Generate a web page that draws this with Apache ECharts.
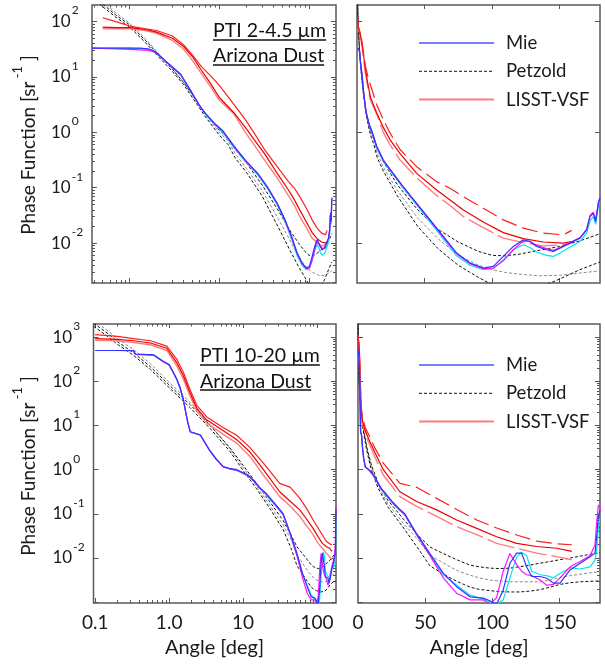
<!DOCTYPE html>
<html><head><meta charset="utf-8">
<script src="https://cdn.jsdelivr.net/npm/echarts@6/dist/echarts.min.js"></script>
<style>html,body{margin:0;padding:0;background:#fff}#c{width:605px;height:665px}</style>
</head><body><div id="c"></div>
<script>
// ===== DATA: angle [deg] and log10(phase function [sr^-1]) =====
// --- PTI 2-4.5 um (top row) ---
const mieTopAngle = [0.38, 0.6, 1.0, 1.3, 1.6, 1.8, 2.0, 2.5, 3.0, 3.7, 4.8, 6.2, 7.1, 9.0, 10.9, 14.6, 19.5, 26.9, 34.3, 44.2, 54.1, 64.0, 73.8, 83.7, 93.5, 101, 108.4, 115.8, 123.2, 128.1, 133, 140.5, 145.4, 150.4, 157.8, 165.2, 170.1, 172.6, 175, 176.8, 178.8, 180];
const mieTopBlue = [1.52, 1.52, 1.52, 1.52, 1.51, 1.48, 1.44, 1.29, 1.18, 1.05, 0.75, 0.45, 0.33, 0.15, 0.03, -0.25, -0.50, -0.745, -0.985, -1.28, -1.58, -1.88, -2.18, -2.36, -2.45, -2.42, -2.24, -2.06, -1.94, -1.97, -2.06, -2.12, -2.15, -2.09, -2.00, -1.91, -1.76, -1.52, -1.46, -1.61, -1.28, -1.19];
const mieTopCyan = [1.52, 1.52, 1.52, 1.51, 1.50, 1.47, 1.43, 1.28, 1.17, 1.04, 0.74, 0.44, 0.31, 0.13, 0.00, -0.28, -0.53, -0.77, -1.01, -1.31, -1.62, -1.93, -2.23, -2.40, -2.48, -2.46, -2.30, -2.12, -2.03, -2.08, -2.16, -2.22, -2.24, -2.18, -2.07, -1.97, -1.82, -1.60, -1.52, -1.66, -1.33, -1.22];
const mieTopMagenta = [1.52, 1.51, 1.50, 1.49, 1.48, 1.46, 1.43, 1.29, 1.17, 1.05, 0.75, 0.45, 0.33, 0.14, 0.02, -0.26, -0.51, -0.75, -0.99, -1.29, -1.59, -1.90, -2.19, -2.37, -2.46, -2.45, -2.32, -2.12, -1.96, -1.97, -2.04, -2.10, -2.13, -2.08, -1.99, -1.90, -1.75, -1.50, -1.44, -1.58, -1.26, -1.17];
const petTopAngle = [0.38, 0.5, 0.7, 1, 1.5, 2, 3, 4, 5, 7, 10, 12.5, 15, 20, 30, 45, 60, 75, 90, 100, 110, 120, 135, 150, 165, 180];
const petTop1 = [2.50, 2.32, 2.12, 1.94, 1.66, 1.44, 1.14, 0.90, 0.68, 0.34, 0.04, -0.10, -0.30, -0.55, -0.95, -1.40, -1.75, -1.98, -2.15, -2.22, -2.23, -2.20, -2.13, -2.06, -1.96, -1.83];
const petTop2 = [2.55, 2.36, 2.16, 1.97, 1.69, 1.46, 1.15, 0.90, 0.67, 0.32, 0.00, -0.15, -0.38, -0.65, -1.05, -1.55, -1.92, -2.22, -2.40, -2.48, -2.53, -2.56, -2.59, -2.58, -2.54, -2.50];
const petTop3 = [2.45, 2.27, 2.08, 1.90, 1.62, 1.40, 1.10, 0.86, 0.63, 0.28, -0.05, -0.22, -0.46, -0.72, -1.15, -1.70, -2.10, -2.40, -2.62, -2.75, -2.82, -2.84, -2.80, -2.65, -2.48, -2.34];
const lisstTopAngle = [0.5, 0.7, 1.0, 1.5, 2, 3, 4, 5, 6.2, 8, 10, 14.6, 19.5, 24.4, 31.9, 44.2, 59, 68.9, 78.8, 93.5, 108.4, 123.2, 138, 152.8, 159];
const lisstTop1 = [2.07, 2.00, 1.92, 1.87, 1.84, 1.74, 1.58, 1.40, 1.20, 1.02, 0.85, 0.50, 0.23, -0.01, -0.31, -0.62, -0.89, -1.01, -1.16, -1.37, -1.58, -1.73, -1.82, -1.85, -1.77];
const lisstTop2 = [1.90, 1.89, 1.89, 1.86, 1.81, 1.70, 1.55, 1.37, 1.14, 0.88, 0.63, 0.35, 0.09, -0.13, -0.385, -0.74, -1.04, -1.22, -1.40, -1.62, -1.81, -1.92, -1.98, -2.00, -1.97];
const lisstTop3 = [1.87, 1.87, 1.87, 1.84, 1.79, 1.66, 1.50, 1.30, 1.08, 0.82, 0.58, 0.33, 0.00, -0.22, -0.50, -0.82, -1.14, -1.32, -1.52, -1.72, -1.91, -1.99, -2.05, -2.03, -2.00];

// --- PTI 10-20 um (bottom row) ---
const mieBotAngle = [0.1, 0.2, 0.33, 0.35, 0.62, 0.84, 1.0, 1.14, 1.27, 1.41, 1.56, 1.65, 1.8, 1.93, 2.3, 2.64, 3.5, 4.3, 5.4, 6.5, 8.2, 11.6, 14, 17.1, 20, 25.3, 31.2, 34.6, 43.6, 53.5, 63.5, 73.4, 83.3, 93.2, 98, 103.1, 108, 113, 118, 121.7, 125.4, 129.2, 135.4, 140.4, 145.3, 150.3, 157.7, 165.2, 172.6, 176.3, 177.5, 178.8, 180];
const mieBotBlue = [2.70, 2.70, 2.70, 2.62, 2.60, 2.45, 2.38, 2.20, 2.05, 1.85, 1.58, 1.36, 1.05, 0.86, 0.82, 0.79, 0.45, 0.25, 0.07, 0.03, 0.00, -0.12, -0.25, -0.42, -0.52, -0.72, -0.90, -0.99, -1.45, -1.90, -2.35, -2.65, -2.88, -2.91, -2.97, -3.05, -2.73, -2.12, -1.89, -1.89, -2.20, -2.42, -2.42, -2.46, -2.57, -2.57, -2.27, -2.12, -1.97, -1.89, -1.52, -1.06, -0.91];
const mieBotCyan = [2.70, 2.70, 2.70, 2.62, 2.60, 2.45, 2.37, 2.19, 2.04, 1.84, 1.57, 1.35, 1.04, 0.85, 0.81, 0.78, 0.44, 0.24, 0.06, 0.02, -0.02, -0.14, -0.27, -0.44, -0.55, -0.75, -0.93, -1.02, -1.48, -1.93, -2.38, -2.62, -2.84, -2.93, -3.00, -3.05, -2.95, -2.45, -1.98, -1.87, -1.95, -2.30, -2.38, -2.40, -2.45, -2.35, -2.22, -2.25, -2.20, -2.05, -1.80, -1.30, -1.10];
const mieBotMagenta = [2.70, 2.70, 2.69, 2.61, 2.59, 2.44, 2.37, 2.20, 2.05, 1.85, 1.58, 1.36, 1.05, 0.86, 0.82, 0.78, 0.44, 0.24, 0.06, 0.02, -0.01, -0.13, -0.26, -0.43, -0.53, -0.73, -0.92, -1.01, -1.47, -1.95, -2.45, -2.80, -2.95, -2.95, -3.05, -2.90, -2.30, -1.90, -2.15, -2.30, -2.38, -2.40, -2.50, -2.62, -2.60, -2.45, -2.20, -2.08, -1.95, -1.70, -1.20, -0.80, -0.85];
const petBotAngle = [0.095, 0.15, 0.2, 0.33, 0.56, 1.0, 1.41, 1.93, 3.5, 6.6, 10, 15, 22.4, 34.6, 45, 53.5, 60, 68.4, 75, 83.3, 90, 98, 105, 113, 120, 128, 135, 143, 150, 158, 165, 172, 180];
const petBot1 = [3.32, 3.08, 2.90, 2.65, 2.33, 1.92, 1.68, 1.47, 1.02, 0.50, 0.10, -0.30, -0.70, -1.15, -1.50, -1.75, -1.85, -1.97, -2.06, -2.16, -2.20, -2.23, -2.24, -2.23, -2.20, -2.16, -2.12, -2.08, -2.04, -2.00, -1.96, -1.92, -1.88];
const petBot2 = [3.38, 3.14, 2.97, 2.72, 2.40, 1.98, 1.74, 1.52, 1.04, 0.48, 0.05, -0.36, -0.78, -1.25, -1.60, -1.95, -2.05, -2.20, -2.30, -2.39, -2.45, -2.50, -2.52, -2.54, -2.54, -2.54, -2.54, -2.50, -2.44, -2.40, -2.37, -2.34, -2.31];
const petBot3 = [3.25, 3.01, 2.84, 2.59, 2.27, 1.86, 1.62, 1.40, 0.95, 0.42, -0.02, -0.42, -0.85, -1.35, -1.80, -2.18, -2.30, -2.45, -2.55, -2.66, -2.71, -2.74, -2.76, -2.77, -2.77, -2.75, -2.72, -2.66, -2.60, -2.56, -2.54, -2.53, -2.52];
const lisstBotAngle = [0.1, 0.2, 0.33, 0.56, 0.93, 1.27, 1.56, 1.93, 2.38, 3.2, 5.4, 8.2, 12.4, 18.8, 31.2, 43.6, 58.5, 73.4, 88.3, 103.1, 118, 132.9, 147.8, 159];
const lisstBot1 = [3.06, 3.02, 2.97, 2.92, 2.80, 2.50, 2.20, 1.80, 1.45, 1.20, 0.95, 0.78, 0.50, 0.15, -0.31, -0.40, -0.65, -0.90, -1.14, -1.32, -1.48, -1.62, -1.68, -1.70];
const lisstBot2 = [2.97, 2.95, 2.92, 2.87, 2.75, 2.42, 2.12, 1.73, 1.38, 1.13, 0.88, 0.68, 0.40, 0.00, -0.50, -0.72, -0.91, -1.14, -1.33, -1.52, -1.67, -1.74, -1.78, -1.85];
const lisstBot3 = [2.93, 2.92, 2.88, 2.83, 2.70, 2.35, 2.05, 1.66, 1.32, 1.06, 0.80, 0.60, 0.30, -0.12, -0.61, -0.83, -1.06, -1.29, -1.47, -1.67, -1.78, -1.89, -1.97, -2.04];

// --- axes ---
const xRangeTopLog = [0.38, 200];
const xRangeBotLog = [0.095, 180];
const xRangeLin = [0, 180];
const yExpTop = [-2.72, 2.3];
const yExpBot = [-3.02, 3.3];
const yLabelExpTop = [-2, -1, 0, 1, 2];
const yLabelExpBot = [-2, -1, 0, 1, 2, 3];
const xLogTickValues = [0.1, 1, 10, 100];
const xLogTickText = ['0.1', '1.0', '10', '100'];
const xLinTickValues = [0, 50, 100, 150];
const legendNames = ['Mie', 'Petzold', 'LISST-VSF'];
const notes = [['PTI 2-4.5 \u00b5m', 'Arizona Dust'], ['PTI 10-20 \u00b5m', 'Arizona Dust']];

// ===== chart =====
const FONT = 'Lato';
const INK = '#1a1a1a';
const TICK = '#555';
const C = {blue:'#3232ff', cyan:'#00e4f4', mag:'#ff10ff', black:'#111111', gray:'#8a8a8a', red:'#ff1e1e', red2:'#ea0000', pink:'#ff7c7c'};

const option = {animation:false, backgroundColor:'#ffffff', textStyle:{fontFamily:FONT},
  grid:[], xAxis:[], yAxis:[], series:[], legend:[], graphic:[]};

const lg10 = Math.log10;
function majors(lo, hi){ const r=[]; for(let k=Math.ceil(lo-1e-9);k<=Math.floor(hi+1e-9);k++) r.push(k); return r; }
function minors(lo, hi){ const r=[]; for(let k=Math.floor(lo);k<=Math.ceil(hi);k++) for(let m=2;m<=9;m++){ const v=k+lg10(m); if(v>lo && v<hi) r.push(v);} return r; }
function tickAxis(g, pos, range, values, len){
  return {type:'value', gridIndex:g, position:pos, min:range[0], max:range[1],
    axisLine:{show:false, onZero:false}, axisLabel:{show:false}, splitLine:{show:false},
    axisTick:{show:true, inside:true, length:len, customValues:values, lineStyle:{color:TICK, width:1}}};
}
function addX(o){ option.xAxis.push(o); return option.xAxis.length-1; }
function addY(o){ option.yAxis.push(o); return option.yAxis.length-1; }

function yLabelCfg(allowed){
  return {show:true, align:'left', margin:41, color:INK,
    formatter: v => { const e=lg10(v), r=Math.round(e); return (Math.abs(e-r)<0.01 && allowed.indexOf(r)>=0) ? '{b|10}{s|'+r+'}' : ''; },
    rich:{ b:{fontSize:17, lineHeight:40, fontFamily:FONT, color:INK},
           s:{fontSize:12, lineHeight:14, padding:[2,0,24,1], fontFamily:FONT, color:INK} } };
}

const panels = [
  {grid:{left:92, top:5, width:244, height:278}, log:true, xr:xRangeTopLog, ye:yExpTop, yLab:yLabelExpTop, xLab:false, yLeftMinor:true, yRightSet:'all', row:0},
  {grid:{left:357, top:5, width:243, height:278}, log:false, xr:xRangeLin, ye:yExpTop, yLab:null, xLab:false, yLeftMinor:false, yRightSet:'even', row:0},
  {grid:{left:93.5, top:324, width:242.5, height:279}, log:true, xr:xRangeBotLog, ye:yExpBot, yLab:yLabelExpBot, xLab:true, yLeftMinor:false, yRightSet:'all', row:1},
  {grid:{left:358, top:324, width:242, height:279}, log:false, xr:xRangeLin, ye:yExpBot, yLab:null, xLab:true, yLeftMinor:false, yRightSet:'all', row:1}
];

const rows = [
  {mie:[mieTopAngle, mieTopBlue, mieTopCyan, mieTopMagenta], pet:[petTopAngle, petTop1, petTop2, petTop3], lis:[lisstTopAngle, lisstTop1, lisstTop2, lisstTop3]},
  {mie:[mieBotAngle, mieBotBlue, mieBotCyan, mieBotMagenta], pet:[petBotAngle, petBot1, petBot2, petBot3], lis:[lisstBotAngle, lisstBot1, lisstBot2, lisstBot3]}
];

function pts(ang, l){ return ang.map((a,i)=>[a, Math.pow(10, l[i])]); }
function addLine(xi, yi, name, ang, l, color, width, dash){
  option.series.push({type:'line', name, xAxisIndex:xi, yAxisIndex:yi, data:pts(ang,l),
    symbol:'none', showSymbol:false, silent:true, clip:true, z:2,
    lineStyle:{color, width, type:dash||'solid'}, itemStyle:{color}});
}

panels.forEach((p, g) => {
  option.grid.push(Object.assign({show:true, borderColor:'#5a5a5a', borderWidth:1.5, backgroundColor:'transparent', containLabel:false, outerBoundsMode:'none'}, p.grid));
  let xi;
  const lblX = {show:p.xLab, color:INK, fontFamily:FONT, fontSize:19, margin:10};
  if (p.log) {
    xi = addX({type:'log', gridIndex:g, min:p.xr[0], max:p.xr[1], axisLine:{show:false, onZero:false}, axisTick:{show:false}, splitLine:{show:false},
      axisLabel:Object.assign({}, lblX, {formatter: v => { const i = xLogTickValues.findIndex(t => Math.abs(lg10(v)-lg10(t))<0.01); return i<0 ? '' : xLogTickText[i]; }})});
    const xe = [lg10(p.xr[0]), lg10(p.xr[1])];
    addX(tickAxis(g,'bottom',xe,majors(xe[0],xe[1]),5));
    addX(tickAxis(g,'bottom',xe,minors(xe[0],xe[1]),3));
    addX(tickAxis(g,'top',xe,majors(xe[0],xe[1]),4));
    addX(tickAxis(g,'top',xe,minors(xe[0],xe[1]),2.5));
  } else {
    xi = addX({type:'value', gridIndex:g, min:p.xr[0], max:p.xr[1], interval:50, axisLine:{show:false, onZero:false}, axisTick:{show:false}, splitLine:{show:false},
      axisLabel:Object.assign({}, lblX, {showMaxLabel:false, formatter: v => xLinTickValues.indexOf(v)>=0 ? String(v) : ''})});
    addX(tickAxis(g,'bottom',p.xr,[50,100,150],5));
    addX(tickAxis(g,'top',p.xr,[50,100,150],4));
  }
  const yi = addY({type:'log', gridIndex:g, min:Math.pow(10,p.ye[0]), max:Math.pow(10,p.ye[1]), axisLine:{show:false, onZero:false}, axisTick:{show:false}, splitLine:{show:false},
    axisLabel: p.yLab ? yLabelCfg(p.yLab) : {show:false}});
  const ym = majors(p.ye[0], p.ye[1]);
  if (p.yRightSet === 'even') {
    const ev = ym.filter(k => k % 2 === 0);
    addY(tickAxis(g,'left',p.ye,ev,5));
    addY(tickAxis(g,'right',p.ye,ev,5));
  } else {
    addY(tickAxis(g,'left',p.ye,ym,5));
    if (p.yLeftMinor) addY(tickAxis(g,'left',p.ye,minors(p.ye[0],p.ye[1]),3));
    addY(tickAxis(g,'right',p.ye,ym,5));
    addY(tickAxis(g,'right',p.ye,minors(p.ye[0],p.ye[1]),3));
  }
  const R = rows[p.row];
  const lin = !p.log;
  addLine(xi, yi, 'Petzold (2)', R.pet[0], R.pet[2], C.gray, 1, [3,2]);
  addLine(xi, yi, 'Petzold', R.pet[0], R.pet[1], C.black, 1, [3,2]);
  addLine(xi, yi, 'Petzold (3)', R.pet[0], R.pet[3], C.black, 1, [3,2]);
  addLine(xi, yi, 'LISST-VSF (3)', R.lis[0], R.lis[3], C.pink, 1.4, lin ? [28,5] : 'solid');
  addLine(xi, yi, 'LISST-VSF (2)', R.lis[0], R.lis[2], C.red2, 1.2, 'solid');
  addLine(xi, yi, 'LISST-VSF', R.lis[0], R.lis[1], C.red, 1.2, lin ? [16,6] : 'solid');
  addLine(xi, yi, 'Mie (c)', R.mie[0], R.mie[2], C.cyan, 1.2);
  addLine(xi, yi, 'Mie (m)', R.mie[0], R.mie[3], C.mag, 1.2);
  addLine(xi, yi, 'Mie', R.mie[0], R.mie[1], C.blue, 1.2);
});

// legends (right panels): plain line keys, no marker
const legendStyles = [
  {color:'#5050ff', width:1.6, type:'solid', opacity:1},
  {color:'#111111', width:1, type:[3,2], opacity:1},
  {color:'#ff7c7c', width:2, type:'solid', opacity:1}
];
[28, 350].forEach(top => {
  option.legend.push({left:413, top, orient:'vertical', itemWidth:75, itemHeight:14, itemGap:8.3, selectedMode:false,
    textStyle:{fontFamily:FONT, fontSize:18.5, color:INK, lineHeight:20, padding:[0,0,0,7]},
    data: legendNames.map((n,i) => ({name:n, lineStyle:legendStyles[i], itemStyle:{color:legendStyles[i].color, opacity:0, borderWidth:0}}))});
});

// titles & annotations
const mctx = document.createElement('canvas').getContext('2d');
function textW(s, size){ mctx.font = size + 'px ' + FONT; return mctx.measureText(s).width; }
[145, 466].forEach(cy => {
  option.graphic.push({type:'text', x:29, y:cy, rotation:Math.PI/2, silent:true,
    style:{text:'{t|Phase Function [sr}{s| -1}{t| ]}', align:'center', verticalAlign:'middle',
      rich:{t:{fontSize:19, fontFamily:FONT, fill:INK, lineHeight:40}, s:{fontSize:13, fontFamily:FONT, fill:INK, lineHeight:14, padding:[2,0,24,0]}}}});
});
[214.5, 479].forEach(cx => {
  option.graphic.push({type:'text', x:cx, y:648, silent:true,
    style:{text:'Angle [deg]', font:'20px ' + FONT, fill:INK, align:'center', verticalAlign:'middle'}});
});
const noteLayout = [{x:213, y:[31, 56], u:[40, 65]}, {x:200, y:[356, 381.5], u:[365, 390]}];
notes.forEach((pair, r) => {
  const L = noteLayout[r];
  pair.forEach((txt, j) => {
    option.graphic.push({type:'text', x:L.x, y:L.y[j], silent:true,
      style:{text:txt, font:'19.5px ' + FONT, fill:'#111', align:'left', verticalAlign:'middle'}});
    const w = textW(txt, 19.5);
    option.graphic.push({type:'line', silent:true, shape:{x1:L.x, y1:L.u[j], x2:L.x + w, y2:L.u[j]}, style:{stroke:'#111', lineWidth:1.4}});
  });
});

const chart = echarts.init(document.getElementById('c'), null, {renderer:'canvas'});
chart.setOption(option);
</script>
</body></html>
